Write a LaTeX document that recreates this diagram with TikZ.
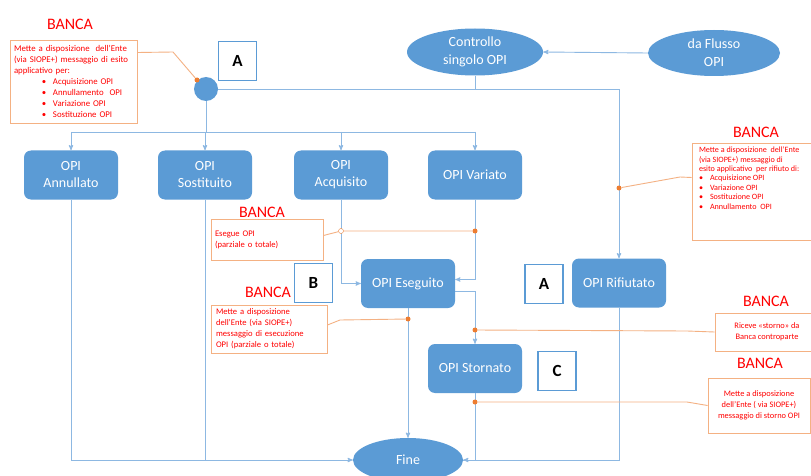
\documentclass[tikz,border=0pt]{standalone}
\usepackage{fontspec}
\setmainfont{Carlito}
\usepackage{tikz}
\usetikzlibrary{arrows,shapes,positioning}
\definecolor{opiblue}{HTML}{5B9BD5}
\definecolor{linkblue}{HTML}{8DB8E2}
\definecolor{bancared}{HTML}{FF0000}
\definecolor{noteorange}{HTML}{ED7D31}
\definecolor{noteborder}{HTML}{F4B183}
\newcommand{\opiitem}[2]{\hspace*{#1}\makebox[11pt][l]{\textbullet}#2}
\tikzset{
  every picture/.style = {
    >=stealth',
    x = 1pt,
    y = -1pt,
  }
  ,
  state/.style = {
    rectangle,
    rounded corners = 7pt,
    fill = opiblue,
    text = white,
    font = \fontsize{14}{17}\selectfont,
    align = center,
    minimum width = 94pt,
    minimum height = 49pt,
    inner sep = 0pt
  }
  , % start and end of the flow
  terminal/.style = {
    ellipse,
    fill = opiblue,
    text = white,
    font = \fontsize{14}{18}\selectfont,
    align = center,
    inner sep = 0pt
  }
  , % A, B, C markers
  letter-box/.style = {
    rectangle,
    draw = opiblue,
    line width = 1.8pt,
    fill = white,
    font = \fontsize{17}{17}\selectfont\bfseries,
    minimum width = 38pt,
    minimum height = 39pt,
    inner sep = 0pt
  }
  ,
  banca/.style = {
    text = bancared,
    font = \fontsize{16}{16}\selectfont
  }
  , % orange notes
  note/.style = {
    rectangle,
    draw = noteborder,
    line width = 0.9pt,
    fill = white,
    text = bancared,
    font = \fontsize{8.6}{11}\selectfont,
    inner sep = 0pt
  }
  ,
  flow/.style = {
    draw = linkblue,
    line width = 0.9pt
  }
  ,
  note-line/.style = {
    draw = noteborder,
    line width = 0.9pt
  }
  ,
  note-dot/.style = {
    circle,
    fill = noteorange,
    inner sep = 0pt,
    minimum size = 5pt
  }
}
\begin{document}
\begin{tikzpicture}
\path[use as bounding box, fill=white] (0,0) rectangle (811,476);

% flow nodes
\node [terminal, minimum width=136pt, minimum height=47pt] (controllo) at (475,52) {Controllo\\singolo OPI};
\node [terminal, minimum width=132pt, minimum height=46pt] (flusso) at (714,53) {da Flusso\\OPI};
\node [circle, fill=opiblue, minimum size=24pt, inner sep=0pt] (esito) at (206,89) {};
\node [state] (annullato) at (71,175) {OPI\\Annullato};
\node [state] (sostituito) at (205,175) {OPI\\Sostituito};
\node [state] (acquisito) at (341,175) {OPI\\Acquisito};
\node [state] (variato) at (475,175) {OPI Variato};
\node [state] (eseguito) at (408,283.5) {OPI Eseguito};
\node [state] (rifiutato) at (619,283) {OPI Rifiutato};
\node [state] (stornato) at (475,368.5) {OPI Stornato};
\node [terminal, minimum width=110pt, minimum height=44pt] (fine) at (408,460) {Fine};

\node [letter-box] (mark-a1) at (237.5,61) {A};
\node [letter-box] (mark-b) at (313.5,283) {B};
\node [letter-box] (mark-a2) at (544,284) {A};
\node [letter-box] (mark-c) at (557,371) {C};

% connectors
\coordinate (split) at (206,132);
\coordinate (rif-turn) at (rifiutato.north |- esito.east);
\draw [flow, ->] (flusso.west) -- (controllo.east);
\draw [flow] (controllo.south) -- (controllo.south |- esito.east);
\draw [flow, ->] (esito.east) -- (rif-turn) -- (rifiutato.north);
\draw [flow] (esito.south) -- (split);
\draw [flow] (annullato.north |- split) -- (variato.north |- split);
\foreach \s in {annullato,sostituito,acquisito,variato}
  \draw [flow, ->] (\s.north |- split) -- (\s.north);
\draw [flow, ->] (annullato.south) |- (fine.west);
\draw [flow] (sostituito.south) -- (sostituito.south |- fine.west);
\draw [flow, ->] (acquisito.south) |- (eseguito.west);
\draw [flow, ->] (variato.south) |- ([yshift=4pt]eseguito.east);
\draw [flow, ->] ([yshift=-8pt]eseguito.east) -| (stornato.north);
\draw [flow, ->] (eseguito.south) -- (fine.north);
\draw [flow] (rifiutato.south) |- (fine.east);
\draw [flow, ->] (stornato.south) |- (fine.east);

% notes
\node [banca] (banca1) at (70,24) {BANCA};
\node [note, minimum width=127pt, minimum height=83pt, text width=119pt, align=left,
  font=\fontsize{8.8}{11}\selectfont] (note1) at (73.5,81.5)
  {Mette a disposizione\ \ dell'Ente\\(via SIOPE+) messaggio di esito\\applicativo per:\\
   \opiitem{28pt}{Acquisizione OPI}\\\opiitem{28pt}{Annullamento\ \ OPI}\\
   \opiitem{28pt}{Variazione OPI}\\\opiitem{28pt}{Sostituzione OPI}};

\node [banca] (banca2) at (756,132) {BANCA};
\node [note, minimum width=123pt, minimum height=97pt] (note2) at (753.5,191.5) {};
\node [note, draw=none, fill=none, font=\fontsize{8.1}{9.4}\selectfont, align=left, anchor=north west,
  below right=4pt and 7pt of note2.north west] (note2-text)
  {Mette a disposizione\ \ dell'Ente\\(via SIOPE+) messaggio di\\esito applicativo\ \ per rifiuto di:\\
   \opiitem{0pt}{Acquisizione OPI}\\\opiitem{0pt}{Variazione OPI}\\
   \opiitem{0pt}{Sostituzione OPI}\\\opiitem{0pt}{Annullamento\ \ OPI}};

\node [banca] (banca3) at (262,212) {BANCA};
\node [note, minimum width=112pt, minimum height=41pt, text width=104pt, align=left] (note3) at (267,239.5)
  {Esegue OPI\\(parziale o totale)};

\node [banca] (banca4) at (268,292) {BANCA};
\node [note, minimum width=116pt, minimum height=48pt, text width=106pt, align=left] (note4) at (269,329)
  {Mette a disposizione\\dell'Ente (via SIOPE+)\\messaggio di esecuzione\\OPI (parziale o totale)};

\node [banca] (banca5) at (766,301) {BANCA};
\node [note, minimum width=104pt, minimum height=38pt, align=center, font=\fontsize{8.4}{11}\selectfont] (note5) at (767,332)
  {Riceve «storno» da\\Banca controparte};

\node [banca] (banca6) at (760,363) {BANCA};
\node [note, minimum width=102pt, minimum height=55pt, align=center, font=\fontsize{8.4}{11}\selectfont] (note6) at (759,405.5)
  {Mette a disposizione\\dell'Ente ( via SIOPE+)\\messaggio di storno OPI};

% note connectors
\node [note-dot] (dot1) at (197,80) {};
\node [note-dot] (dot2) at (619,188) {};
\node [circle, draw=noteorange, fill=white, inner sep=0pt, minimum size=5pt] (ring3) at (341,231) {};
\node [note-dot] (dot3) at (475,231) {};
\node [note-dot] (dot4) at (408,319) {};
\node [note-dot] (dot5) at (475,330) {};
\node [note-dot] (dot6) at (475,402) {};

\draw [note-line] ([yshift=29pt]note1.east) -- (173,52) -- (dot1);
\draw [note-line] ([yshift=14pt]note2.west) -- (680,177) -- (dot2);
\draw [note-line] ([yshift=4pt]note3.east) -- (ring3) -- (dot3);
\draw [note-line] ([yshift=4pt]note4.east) -- (340,320) -- (dot4);
\draw [note-line] (note5.west) -- (687,331) -- (dot5);
\draw [note-line] (note6.west) -- (687,402) -- (dot6);
\end{tikzpicture}
\end{document}
